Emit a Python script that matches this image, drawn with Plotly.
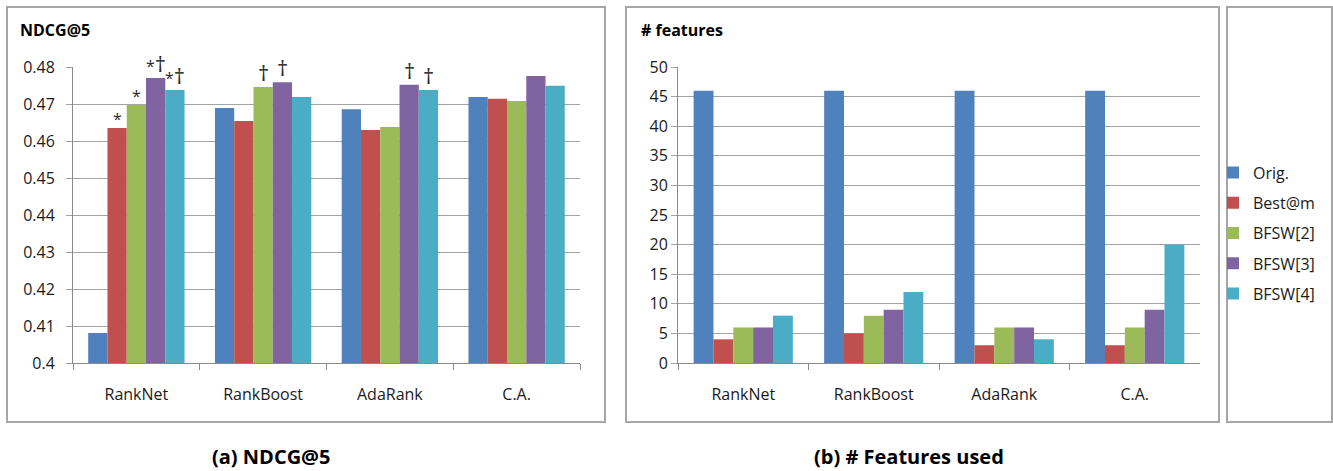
import plotly.graph_objects as go

W, H = 1333, 471

categories = ["RankNet", "RankBoost", "AdaRank", "C.A."]
series = ["Orig.", "Best@m", "BFSW[2]", "BFSW[3]", "BFSW[4]"]
colors = ["#4F81BD", "#C0504D", "#9BBB59", "#8064A2", "#4BACC6"]

# (a) NDCG@5 per learner
ndcg_orig = [0.4081, 0.4689, 0.4686, 0.4719]
ndcg_best = [0.4635, 0.4654, 0.4630, 0.4714]
ndcg_bfsw2 = [0.4698, 0.4746, 0.4638, 0.4708]
ndcg_bfsw3 = [0.4770, 0.4759, 0.4752, 0.4776]
ndcg_bfsw4 = [0.4738, 0.4719, 0.4738, 0.4749]

# significance marks drawn above the NDCG bars
sig_orig = ["", "", "", ""]
sig_best = ["*", "", "", ""]
sig_bfsw2 = ["*", "†", "", ""]
sig_bfsw3 = ["*†", "†", "†", ""]
sig_bfsw4 = ["*†", "", "†", ""]

# (b) number of features used
feat_orig = [46, 46, 46, 46]
feat_best = [4, 5, 3, 3]
feat_bfsw2 = [6, 8, 6, 6]
feat_bfsw3 = [6, 9, 6, 9]
feat_bfsw4 = [8, 12, 4, 20]

ndcg_tickvals = [0.40, 0.41, 0.42, 0.43, 0.44, 0.45, 0.46, 0.47, 0.48]
ndcg_ticktext = ["0.4", "0.41", "0.42", "0.43", "0.44", "0.45", "0.46", "0.47", "0.48"]
feat_tickvals = [0, 5, 10, 15, 20, 25, 30, 35, 40, 45, 50]

ndcg_all = [ndcg_orig, ndcg_best, ndcg_bfsw2, ndcg_bfsw3, ndcg_bfsw4]
sig_all = [sig_orig, sig_best, sig_bfsw2, sig_bfsw3, sig_bfsw4]
feat_all = [feat_orig, feat_best, feat_bfsw2, feat_bfsw3, feat_bfsw4]

BARGAP = 0.24
FONT = "Open Sans"
TXT = "#1a1a1a"
GRID = "#a3a3a3"
AXIS = "#8a8a8a"


def px(x):
    return x / W


def py(y):
    return 1 - y / H


def mark_html(mark):
    # star small and raised, dagger tall
    out = ""
    for ch in mark:
        if ch == "†":
            out += '<span style="font-size:22px">†</span>'
        else:
            out += '<span style="font-size:16px">*</span>'
    return out


fig = go.Figure()

for i, name in enumerate(series):
    fig.add_trace(go.Bar(
        x=categories, y=ndcg_all[i], name=name, marker_color=colors[i],
        marker_line_width=0, xaxis="x", yaxis="y", showlegend=False,
        legendgroup=name,
    ))
for i, name in enumerate(series):
    fig.add_trace(go.Bar(
        x=categories, y=feat_all[i], name=name, marker_color=colors[i],
        marker_line_width=0, xaxis="x2", yaxis="y2", showlegend=True,
        legendgroup=name,
    ))

# significance markers above individual bars
bar_w = (1 - BARGAP) / len(series)
annotations = []
for i in range(len(series)):
    for j, mark in enumerate(sig_all[i]):
        if not mark:
            continue
        annotations.append(dict(
            x=j + (i - (len(series) - 1) / 2) * bar_w, y=ndcg_all[i][j],
            xref="x", yref="y", text=mark_html(mark), showarrow=False,
            yanchor="bottom", xanchor="center",
            yshift=-4 if mark == "*" else -2,
            font=dict(family=FONT, size=16, color="#2b2b2b"),
        ))

# chart headings and captions
annotations += [
    dict(x=px(18), y=py(30), xref="paper", yref="paper", text="<b>NDCG@5</b>",
         showarrow=False, xanchor="left", yanchor="middle",
         font=dict(family=FONT, size=16, color="#000000")),
    dict(x=px(639), y=py(30), xref="paper", yref="paper", text="<b># features</b>",
         showarrow=False, xanchor="left", yanchor="middle",
         font=dict(family=FONT, size=16, color="#000000")),
    dict(x=px(271), y=py(471), xref="paper", yref="paper", text="<b>(a) NDCG@5</b>",
         showarrow=False, xanchor="center", yanchor="bottom", borderpad=0,
         font=dict(family=FONT, size=20, color="#000000")),
    dict(x=px(909), y=py(471), xref="paper", yref="paper", text="<b>(b) # Features used</b>",
         showarrow=False, xanchor="center", yanchor="bottom", borderpad=0,
         font=dict(family=FONT, size=20, color="#000000")),
]

# panel frames
shapes = []
for x0, x1 in [(7, 605), (626, 1219), (1227, 1332)]:
    shapes.append(dict(type="rect", xref="paper", yref="paper",
                       x0=px(x0), x1=px(x1), y0=py(422), y1=py(7),
                       line=dict(color="#a6a6a6", width=2), layer="below"))

tickfont = dict(family=FONT, size=16, color=TXT)
y_dom = [py(363), py(67)]

xaxis_common = dict(
    type="category", range=[-0.5, 3.5], showgrid=False, showline=True,
    linecolor=AXIS, linewidth=1, ticks="outside", tickson="boundaries",
    ticklen=6, tickcolor=AXIS, tickfont=tickfont, ticklabelstandoff=17,
    fixedrange=True, automargin=False,
)
yaxis_common = dict(
    showgrid=True, gridcolor=GRID, gridwidth=1, showline=True,
    linecolor=AXIS, linewidth=1, ticks="outside", ticklen=6,
    tickcolor=GRID, tickfont=tickfont, zeroline=False, fixedrange=True,
    automargin=False,
)

fig.update_layout(
    width=W, height=H, margin=dict(l=0, r=0, t=0, b=0, pad=0, autoexpand=False),
    paper_bgcolor="white", plot_bgcolor="white",
    barmode="group", bargap=BARGAP, bargroupgap=0,
    xaxis=dict(domain=[px(73), px(580)], anchor="y", **xaxis_common),
    yaxis=dict(domain=y_dom, anchor="x", range=[0.4, 0.48],
               tickvals=ndcg_tickvals, ticktext=ndcg_ticktext,
               ticklabelstandoff=8, **yaxis_common),
    xaxis2=dict(domain=[px(678), px(1200)], anchor="y2", **xaxis_common),
    yaxis2=dict(domain=y_dom, anchor="x2", range=[0, 50],
                tickvals=feat_tickvals, ticklabelstandoff=0, **yaxis_common),
    legend=dict(x=px(1213), y=py(233), xanchor="left", yanchor="middle",
                font=dict(family=FONT, size=16, color=TXT),
                tracegroupgap=6.5, bgcolor="rgba(0,0,0,0)", borderwidth=0),
    annotations=annotations,
    shapes=shapes,
)

fig.write_html("out.html")
